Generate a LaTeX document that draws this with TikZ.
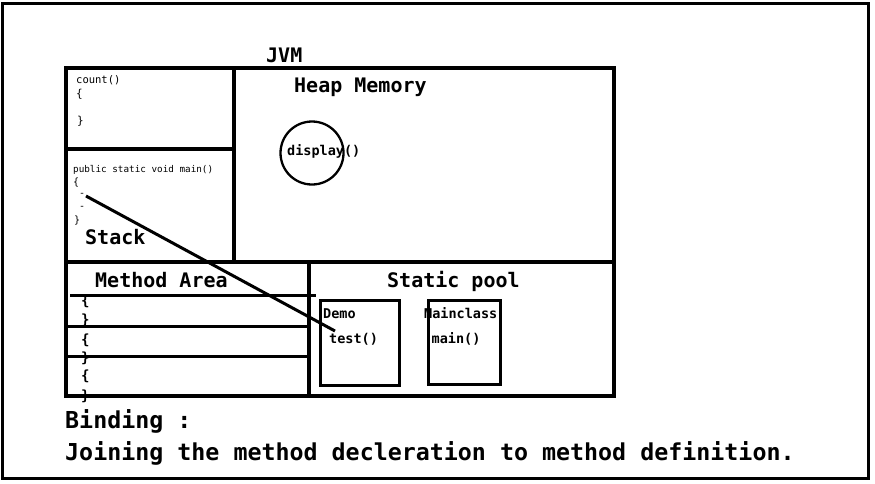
\documentclass[tikz,border=0pt]{standalone}
\usepackage{fontspec}
\setmonofont{DejaVu Sans Mono}
\begin{document}
\begin{tikzpicture}[x=1pt,y=-1pt,
  btxt/.style={inner sep=0pt, anchor=base west, font=\ttfamily\bfseries\fontsize{#1}{#1}\selectfont},
  rtxt/.style={inner sep=0pt, anchor=base west, font=\ttfamily\fontsize{#1}{#1}\selectfont},
  brc/.style={inner sep=0pt, anchor=west, font=\ttfamily\fontsize{#1}{#1}\selectfont},
  bbrc/.style={inner sep=0pt, anchor=west, font=\ttfamily\bfseries\fontsize{#1}{#1}\selectfont},
  heavy/.style={line width=4.5pt},
  mid/.style={line width=3pt},
  thin/.style={line width=2.3pt}]
\useasboundingbox (0,0) rectangle (875,483);
\fill[white] (0,0) rectangle (875,483);
% outer frame
\draw[mid] (2,3) rectangle (868,478);
% JVM box
\draw[heavy] (66,68) rectangle (614,396);
\draw[heavy] (234,68) -- (234,262);
\draw[heavy] (64,149) -- (234,149);
\draw[heavy] (66,262) -- (614,262);
\draw[heavy] (309,262) -- (309,396);
% method area rows
\draw[mid] (70,295) -- (316,295);
\draw[mid] (66,326) -- (309,326);
\draw[mid] (66,356) -- (309,356);
% titles
\node[btxt=20] (jvm) at (266,62) {JVM};
\node[btxt=20] (heap) at (294,92) {Heap Memory};
\node[btxt=20] (stack) at (85,244) {Stack};
\node[btxt=20] (marea) at (95,287) {Method Area};
\node[btxt=20] (spool) at (387,287) {Static pool};
% stack frames
\node[rtxt=10.5] (count) at (76,83) {count()};
\node[brc=11] (cb1) at (76,94) {\{};
\node[brc=11] (cb2) at (77,121) {\}};
\node[rtxt=9.3] (pmain) at (73,172.5) {public static void main()};
\node[brc=10] (mb1) at (73,183) {\{};
\node[brc=10] (md1) at (79,195) {-};
\node[brc=10] (md2) at (79,208) {-};
\node[brc=10] (mb2) at (74,221) {\}};
% heap
\node[draw, circle, thin, minimum size=63pt, inner sep=0pt] (circ) at (312,153) {};
\node[btxt=13.5] (disp) at (287,155) {display()};
% method area braces
\node[bbrc=14] (a1) at (81,301) {\{};
\node[bbrc=14] (a2) at (81,320) {\}};
\node[bbrc=14] (a3) at (81,340) {\{};
\node[bbrc=14] (a4) at (81,358) {\}};
\node[bbrc=14] (a5) at (81,376) {\{};
\node[bbrc=14] (a6) at (81,396) {\}};
% static pool boxes
\draw[mid] (320,300) rectangle (399.5,385.5);
\draw[mid] (428.5,300) rectangle (500.5,384.5);
\node[btxt=13.5] (demo) at (323,318) {Demo};
\node[btxt=13.5] (test) at (329,343.5) {test()};
\node[btxt=13.5] (mcls) at (424,318) {Mainclass};
\node[btxt=13.5] (mmain) at (431.5,343.5) {main()};
% binding connector
\coordinate (lnA) at (86,196);
\coordinate (lnB) at (335,331);
\draw[mid] (lnA) -- (lnB);
% caption
\node[btxt=23.3] (bind) at (65,428) {Binding :};
\node[btxt=23.3] (join) at (65,460) {Joining the method decleration to method definition.};
\end{tikzpicture}
\end{document}
